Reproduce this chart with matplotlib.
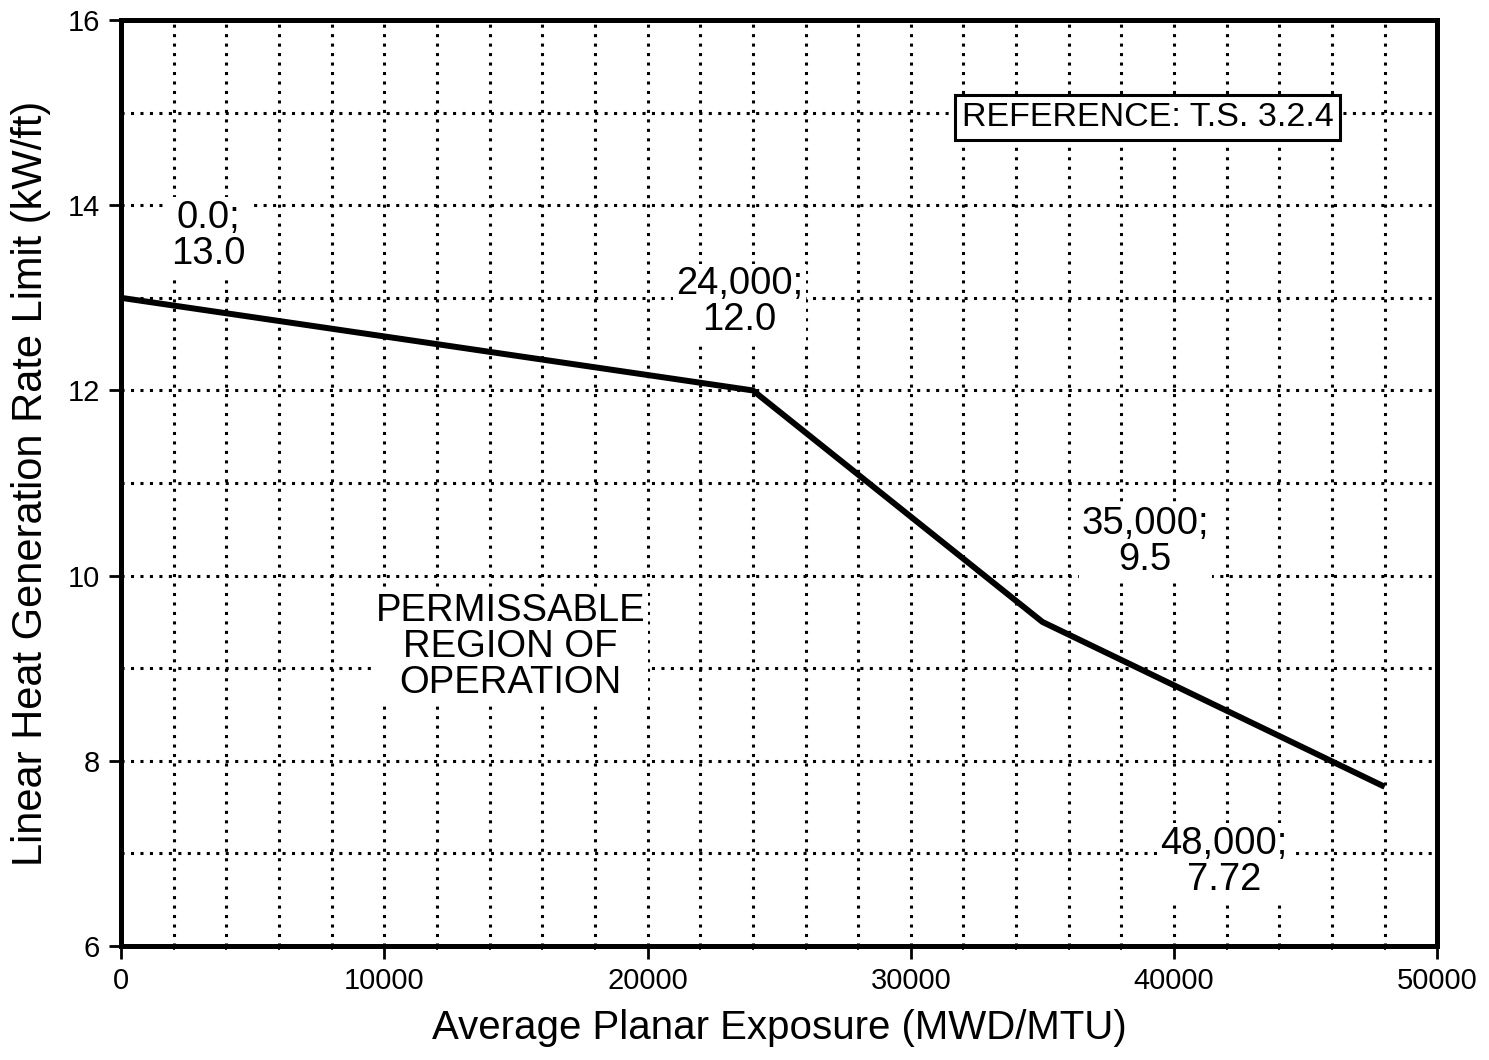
import matplotlib
matplotlib.use("Agg")
import matplotlib.pyplot as plt
from matplotlib.ticker import MultipleLocator

plt.rcParams['font.family'] = ['Liberation Sans', 'DejaVu Sans']

# limit curve points (exposure, LHGR)
exposure = [0, 24000, 35000, 48000]
lhgr = [13.0, 12.0, 9.5, 7.72]

# labels for the break points and where they sit
point_labels = ["0.0;\n13.0", "24,000;\n12.0", "35,000;\n9.5", "48,000;\n7.72"]
label_x = [3300, 23500, 38900, 41900]
label_y = [13.67, 12.95, 10.36, 6.91]

region_text = "PERMISSABLE\nREGION OF\nOPERATION"
ref_text = "REFERENCE: T.S. 3.2.4"

fig = plt.figure(figsize=(14.89, 10.6), dpi=100)
ax = fig.add_axes([0.0813, 0.1075, 0.884, 0.8736])

ax.set_xlim(0, 50000)
ax.set_ylim(6, 16)

ax.xaxis.set_major_locator(MultipleLocator(10000))
ax.xaxis.set_minor_locator(MultipleLocator(2000))
ax.yaxis.set_major_locator(MultipleLocator(2))
ax.yaxis.set_minor_locator(MultipleLocator(1))

# dotted grid every 2000 / every 1
for gx in range(2000, 50000, 2000):
  ax.axvline(gx, color="black", lw=2.2, linestyle=(0, (1, 2.1)), dash_capstyle="butt", zorder=1)
for gy in range(7, 16):
  ax.axhline(gy, color="black", lw=2.2, linestyle=(0, (1, 2.1)), dash_capstyle="butt", zorder=1)

ax.plot(exposure, lhgr, color="black", lw=4.3, solid_capstyle="butt", zorder=3)

for t, x, y in zip(point_labels, label_x, label_y):
  ax.text(x, y, t, ha="center", va="center", fontsize=27.5, linespacing=1.0,
          bbox=dict(facecolor="white", edgecolor="none", pad=2), zorder=4)

ax.text(14800, 9.23, region_text, ha="center", va="center", fontsize=27.5, linespacing=1.0,
        bbox=dict(facecolor="white", edgecolor="none", pad=2), zorder=4)

ax.text(39000, 14.95, ref_text, ha="center", va="center", fontsize=24.5,
        bbox=dict(facecolor="white", edgecolor="black", lw=2.2, pad=5), zorder=4)

for s in ax.spines.values():
  s.set_linewidth(3.6)

ax.tick_params(axis="both", which="major", direction="out", length=9, width=2, labelsize=21, pad=6)
ax.tick_params(axis="x", which="minor", direction="out", length=3, width=1.2)
ax.tick_params(axis="y", which="minor", length=0)

ax.set_xlabel("Average Planar Exposure (MWD/MTU)", fontsize=29, labelpad=10)
ax.set_ylabel("Linear Heat Generation Rate Limit (kW/ft)", fontsize=30, labelpad=12)

fig.savefig("out.png", dpi=100)
